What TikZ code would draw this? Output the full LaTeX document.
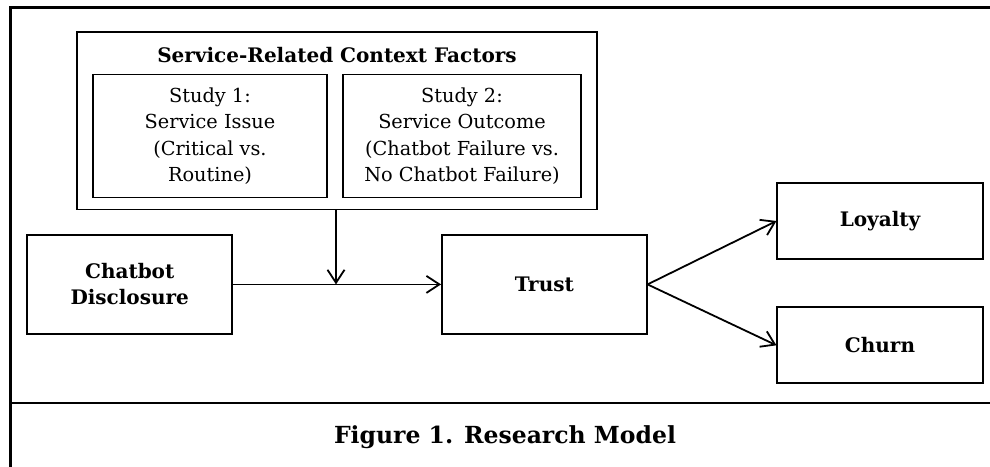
\documentclass[tikz,border=0pt]{standalone}
\usepackage{fontspec}
\setmainfont{DejaVu Serif}
\usetikzlibrary{arrows.meta}
\tikzset{
  box/.style={draw, line width=1.8pt, rectangle, inner sep=0pt, align=center},
  reg/.style={font=\fontsize{19.3}{26.5}\selectfont},
  bld/.style={font=\fontsize{20}{26}\selectfont\bfseries},
  conn/.style={line width=1.8pt, -{Straight Barb[length=13pt,width=17pt,line width=1.8pt]}},
  frame/.style={line width=2.6pt}
}
\begin{document}
\begin{tikzpicture}[x=1pt,y=-1pt]
\useasboundingbox (0,0) rectangle (990,466);
% frame
\coordinate (fbl) at (10.7,470);
\coordinate (ftl) at (10.7,7.7);
\coordinate (ftr) at (994,7.7);
\coordinate (dl) at (10.7,403);
\coordinate (dr) at (994,403);
\draw[frame] (fbl) -- (ftl) -- (ftr);
\draw[frame] (dl) -- (dr);
% context box
\node[box, minimum width=520pt, minimum height=177.5pt] (ctx) at (337,120.75) {};
\node[bld, anchor=base] (ctxt) at (337,62) {Service-Related Context Factors};
\node[box, reg, minimum width=234pt, minimum height=123pt] (s1) at (210,136) {Study 1:\\Service Issue\\(Critical vs.\\Routine)};
\node[box, reg, minimum width=238pt, minimum height=123pt] (s2) at (462,136) {Study 2:\\Service Outcome\\(Chatbot Failure vs.\\No Chatbot Failure)};
% main boxes
\node[box, bld, minimum width=205pt, minimum height=99pt] (cd) at (129.7,284.4) {Chatbot\\Disclosure};
\node[box, bld, minimum width=204.7pt, minimum height=99pt] (tr) at (544.3,284.4) {Trust};
\node[box, bld, minimum width=205.3pt, minimum height=76.6pt] (ly) at (880,221) {Loyalty};
\node[box, bld, minimum width=205.3pt, minimum height=76pt] (ch) at (880,345.3) {Churn};
% connectors
\coordinate (mod) at (336,284.4);
\draw[conn] (cd.east) -- (tr.west);
\draw[conn] (ctx.south -| mod) -- (mod);
\draw[conn] (tr.east) -- (ly.west);
\draw[conn] (tr.east) -- (ch.west);
% caption
\node[anchor=base, font=\fontsize{23.5}{28}\selectfont\bfseries] (cap) at (505,443) {Figure 1. Research Model};
\end{tikzpicture}
\end{document}
